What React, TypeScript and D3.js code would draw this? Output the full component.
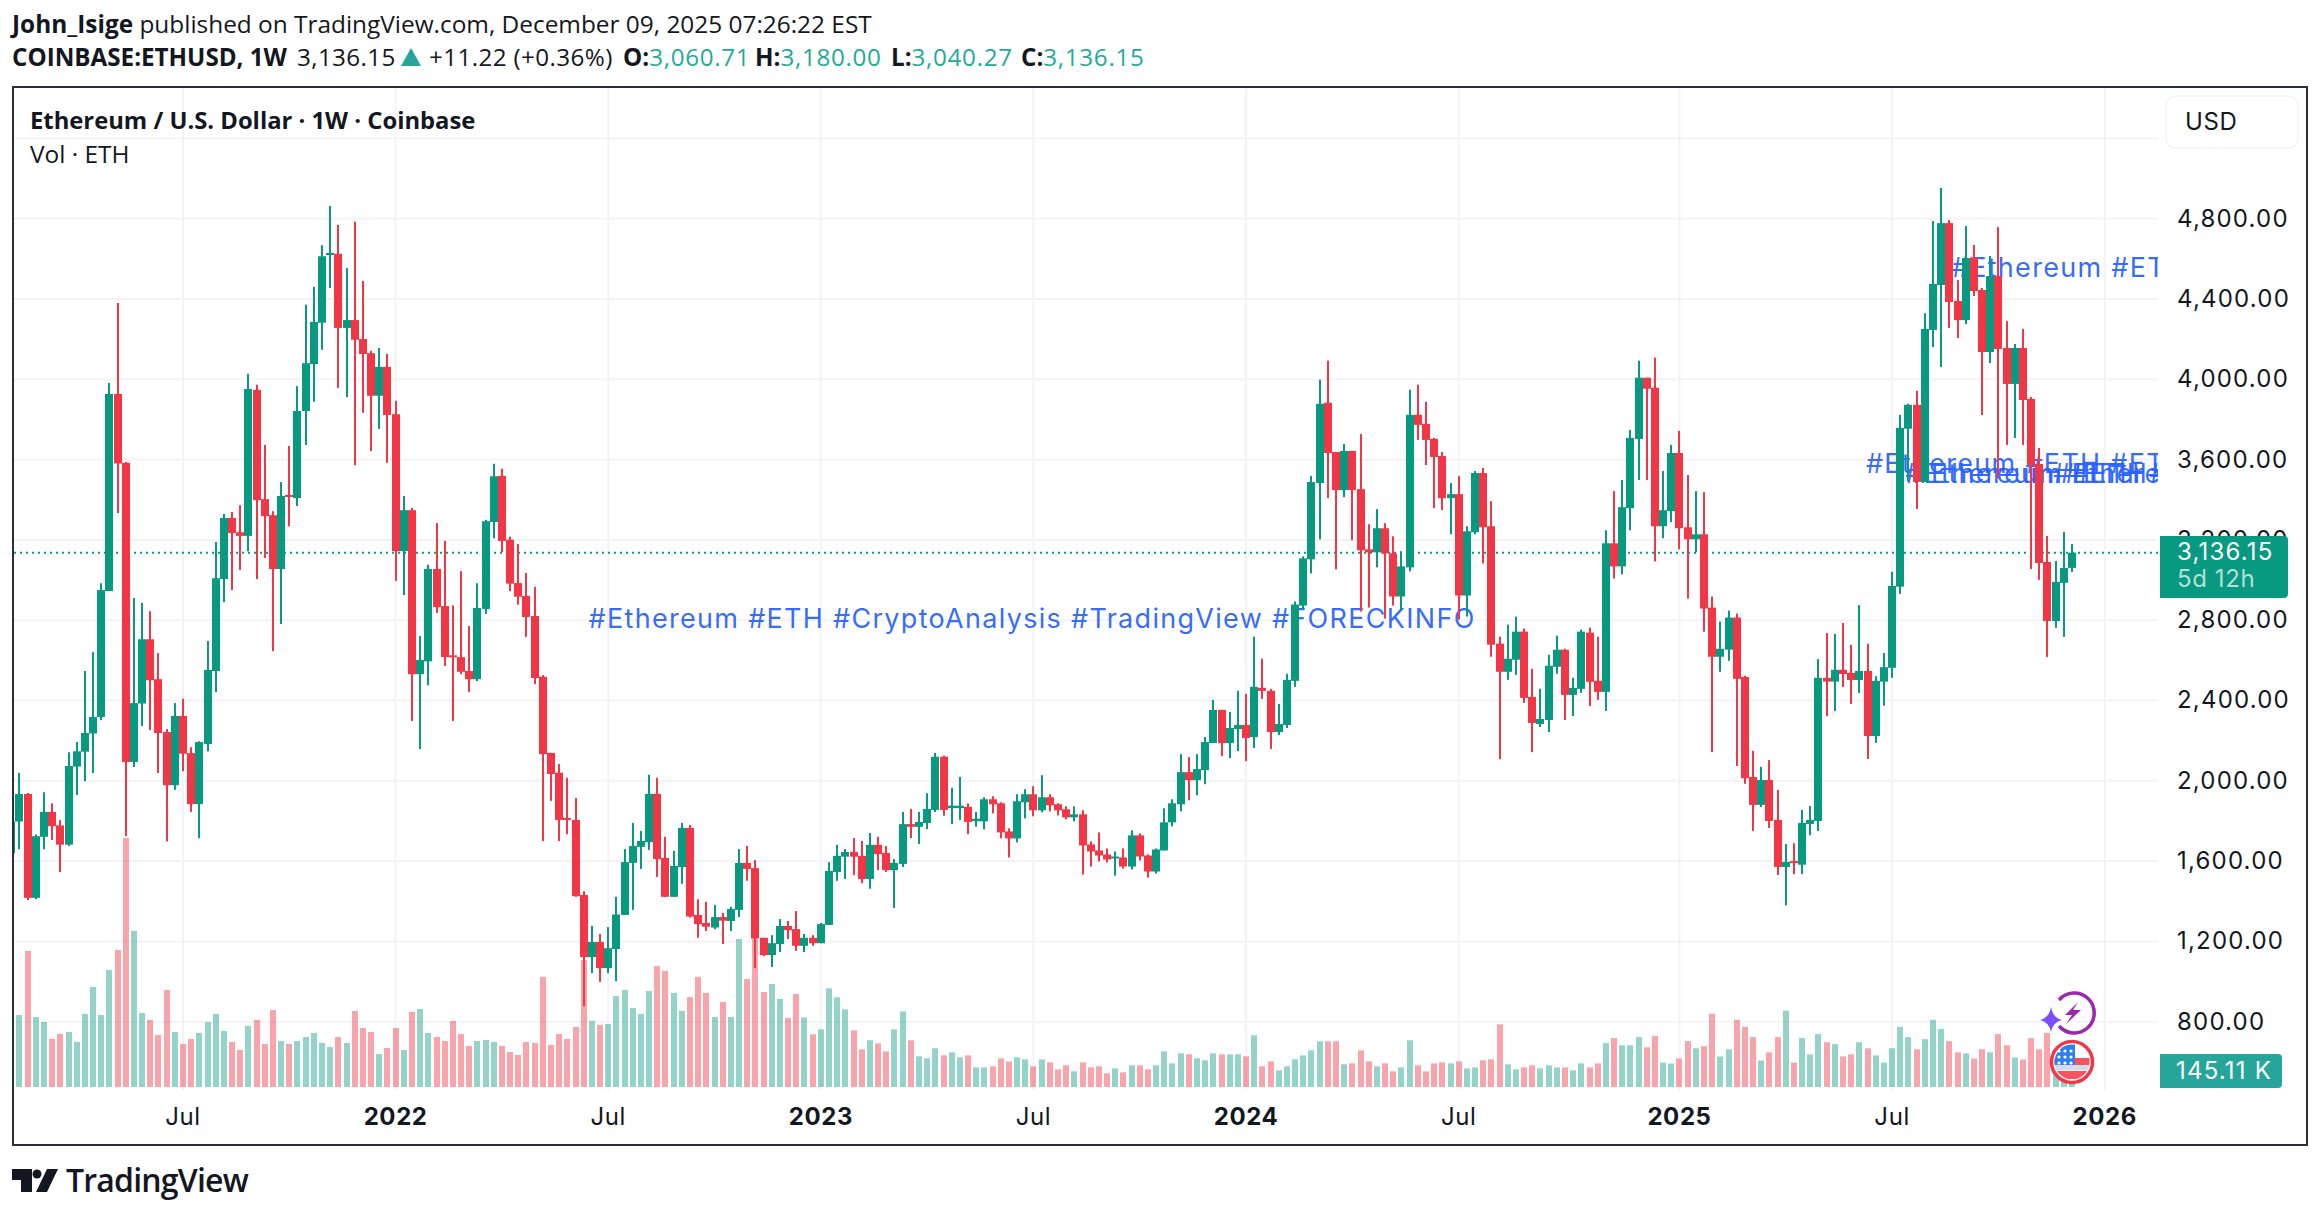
import * as d3 from "d3";

const WIDTH = 2320;
const HEIGHT = 1218;

const UP = "#089981";
const DOWN = "#f23645";
const GRID = "#f3f3f5";
const INK = "#131722";
const AXIS_FONT = "Inter, sans-serif";
const HEAD_FONT = "'Open Sans', sans-serif";

// weekly candles
const opens = [
  1640, 1797, 1934, 1417, 1721, 1845, 1778, 1682, 2071, 2145,
  2236, 2318, 2945, 3927, 3584, 2094, 2385, 2705, 2506, 2243,
  1978, 2323, 2138, 1884, 2183, 2547, 3005, 3309, 3238, 3220,
  3947, 3403, 3323, 3055, 3424, 3408, 3842, 4076, 4282, 4625,
  4625, 4256, 4295, 4201, 4130, 3918, 4062, 3826, 3144, 3348,
  2531, 2595, 3055, 2870, 2625, 2616, 2547, 2506, 2856, 3289,
  3519, 3201, 2985, 2921, 2821, 2518, 2139, 2040, 1815, 1805,
  1431, 1122, 1197, 1067, 1162, 1332, 1591, 1671, 1694, 1935,
  1616, 1422, 1570, 1765, 1332, 1292, 1269, 1321, 1302, 1357,
  1591, 1565, 1218, 1132, 1187, 1277, 1261, 1178, 1218, 1191,
  1282, 1546, 1622, 1645, 1626, 1511, 1681, 1641, 1555, 1586,
  1784, 1771, 1790, 1855, 2120, 1864, 1864, 1870, 1799, 1798,
  1908, 1888, 1748, 1713, 1893, 1933, 1853, 1918, 1883, 1858,
  1818, 1833, 1683, 1653, 1633, 1613, 1618, 1573, 1728, 1628,
  1548, 1653, 1793, 1883, 2043, 2003, 2053, 2188, 2353, 2188,
  2258, 2278, 2218, 2463, 2448, 2243, 2278, 2498, 2873, 3103,
  3483, 3883, 3638, 3448, 3643, 3453, 3153, 3138, 3258, 3133,
  2918, 3063, 3823, 3778, 3703, 3618, 3408, 3428, 2923, 3238,
  3533, 3268, 2683, 2543, 2603, 2743, 2418, 2283, 2303, 2568,
  2653, 2428, 2458, 2738, 2498, 2443, 3183, 3068, 3358, 3703,
  4008, 3958, 3268, 3343, 3633, 3263, 3203, 3228, 2863, 2618,
  2653, 2813, 2517, 2019, 1880, 2004, 1805, 1571, 1600, 1582,
  1785, 1800, 2513, 2494, 2553, 2538, 2502, 2547, 2223, 2494,
  2563, 2967, 3754, 3873, 3489, 4246, 4470, 4778, 4390, 4295,
  4607, 4445, 4136, 4514, 4156, 3977, 4156, 3902, 3578, 3090,
  2796, 2986, 3060.71,
];
const closes = [
  1797, 1934, 1417, 1724, 1845, 1774, 1682, 2074, 2147, 2238,
  2318, 2950, 3927, 3581, 2094, 2387, 2705, 2501, 2238, 1978,
  2323, 2135, 1884, 2193, 2552, 3009, 3309, 3234, 3220, 3952,
  3398, 3318, 3055, 3419, 3414, 3842, 4080, 4286, 4613, 4629,
  4256, 4295, 4197, 4126, 3918, 4062, 3822, 3144, 3348, 2531,
  2602, 3055, 2865, 2616, 2616, 2543, 2506, 2861, 3293, 3517,
  3195, 2982, 2917, 2816, 2512, 2133, 2034, 1805, 1807, 1425,
  1122, 1197, 1067, 1166, 1334, 1595, 1675, 1700, 1935, 1610,
  1422, 1576, 1765, 1324, 1286, 1273, 1321, 1303, 1361, 1591,
  1561, 1214, 1132, 1191, 1277, 1256, 1178, 1218, 1191, 1286,
  1551, 1626, 1645, 1622, 1511, 1681, 1635, 1555, 1591, 1784,
  1771, 1795, 1860, 2120, 1855, 1876, 1876, 1795, 1811, 1908,
  1883, 1743, 1713, 1898, 1933, 1853, 1918, 1878, 1853, 1818,
  1833, 1678, 1648, 1628, 1608, 1623, 1573, 1728, 1623, 1548,
  1658, 1793, 1888, 2043, 2003, 2058, 2193, 2353, 2188, 2263,
  2278, 2213, 2468, 2448, 2243, 2283, 2503, 2878, 3108, 3488,
  3878, 3633, 3448, 3643, 3448, 3148, 3138, 3258, 3133, 2918,
  3068, 3823, 3773, 3698, 3613, 3408, 3428, 2923, 3243, 3533,
  3263, 2678, 2543, 2608, 2743, 2413, 2288, 2308, 2573, 2653,
  2428, 2463, 2743, 2493, 2443, 3183, 3068, 3363, 3708, 4008,
  3953, 3268, 3348, 3633, 3258, 3203, 3228, 2858, 2618, 2658,
  2813, 2508, 2013, 1880, 2004, 1800, 1571, 1596, 1592, 1790,
  1805, 2513, 2494, 2553, 2532, 2502, 2547, 2223, 2498, 2566,
  2971, 3758, 3873, 3489, 4251, 4475, 4778, 4385, 4295, 4604,
  4440, 4136, 4514, 4151, 3977, 4156, 3897, 3573, 3085, 2796,
  2991, 3060, 3136.15,
];
const highs = [
  1800, 2039, 1939, 1733, 1943, 1888, 1804, 2142, 2193, 2547,
  2641, 2984, 3982, 4380, 3588, 2911, 2886, 2845, 2636, 2257,
  2387, 2408, 2167, 2197, 2696, 3190, 3330, 3339, 3373, 4028,
  3973, 3673, 3343, 3488, 3668, 3966, 4371, 4460, 4668, 4863,
  4769, 4554, 4785, 4490, 4142, 4156, 4126, 3893, 3419, 3359,
  2721, 3076, 3284, 3195, 2874, 3044, 2771, 2984, 3300, 3579,
  3554, 3216, 3180, 3035, 2966, 2526, 2139, 2083, 2015, 1914,
  1450, 1277, 1237, 1271, 1422, 1660, 1790, 1750, 2030, 2015,
  1721, 1651, 1790, 1780, 1410, 1397, 1382, 1342, 1372, 1660,
  1675, 1605, 1218, 1231, 1311, 1302, 1351, 1237, 1231, 1292,
  1595, 1681, 1660, 1715, 1700, 1740, 1721, 1675, 1610, 1845,
  1860, 1845, 1938, 2139, 2125, 1965, 2019, 1887, 1845, 1918,
  1923, 1893, 1763, 1933, 1958, 1973, 2028, 1933, 1888, 1873,
  1873, 1853, 1698, 1743, 1663, 1648, 1663, 1753, 1738, 1633,
  1663, 1863, 1908, 2133, 2118, 2133, 2218, 2403, 2353, 2343,
  2448, 2433, 2718, 2608, 2458, 2383, 2533, 2893, 3118, 3518,
  3998, 4093, 3638, 3678, 3643, 3728, 3278, 3353, 3283, 3218,
  3143, 3948, 3973, 3888, 3708, 3638, 3483, 3518, 3268, 3543,
  3558, 3393, 2718, 2778, 2818, 2758, 2558, 2458, 2628, 2723,
  2658, 2513, 2753, 2763, 2718, 3248, 3443, 3498, 3748, 4093,
  4008, 4108, 3543, 3673, 3743, 3523, 3443, 3438, 2918, 2793,
  2848, 2833, 2523, 2149, 2069, 2103, 1954, 1685, 1689, 1855,
  1874, 2606, 2736, 2732, 2786, 2677, 2875, 2683, 2521, 2637,
  3041, 3823, 3878, 3943, 4329, 4788, 4953, 4793, 4495, 4763,
  4669, 4455, 4614, 4758, 4290, 4176, 4251, 3912, 3658, 3220,
  3095, 3240, 3180,
];
const lows = [
  1612, 1659, 1406, 1410, 1659, 1705, 1545, 1675, 1929, 1998,
  2039, 2302, 2945, 3334, 1724, 2069, 2273, 2252, 2039, 1698,
  1955, 2048, 1845, 1714, 2147, 2442, 2890, 2950, 3051, 3144,
  3005, 3110, 2646, 2781, 3268, 3369, 3673, 3888, 4147, 4455,
  3957, 3911, 3572, 3833, 3643, 3753, 3584, 2996, 2925, 2298,
  2158, 2476, 2836, 2572, 2298, 2531, 2442, 2497, 2831, 3208,
  3140, 2945, 2877, 2717, 2482, 1700, 1900, 1700, 1734, 1422,
  878, 1042, 998, 1042, 1002, 1332, 1357, 1561, 1656, 1521,
  1422, 1422, 1487, 1319, 1218, 1252, 1261, 1187, 1252, 1321,
  1502, 1067, 1126, 1073, 1147, 1212, 1153, 1147, 1178, 1191,
  1282, 1502, 1511, 1530, 1490, 1462, 1555, 1546, 1366, 1570,
  1715, 1685, 1759, 1845, 1826, 1784, 1805, 1734, 1771, 1758,
  1838, 1713, 1618, 1693, 1813, 1823, 1843, 1848, 1828, 1808,
  1798, 1533, 1573, 1598, 1593, 1528, 1563, 1558, 1603, 1518,
  1538, 1653, 1773, 1848, 1903, 1928, 1983, 2188, 2123, 2113,
  2148, 2098, 2163, 2408, 2158, 2228, 2263, 2468, 2853, 3033,
  3203, 3408, 3053, 3413, 3198, 2843, 2863, 3063, 2808, 2873,
  2848, 3043, 3698, 3573, 3358, 3348, 3228, 2803, 2818, 3228,
  3083, 2618, 2108, 2503, 2528, 2388, 2143, 2268, 2243, 2533,
  2303, 2323, 2438, 2373, 2403, 2348, 3008, 3028, 3248, 3498,
  3498, 3093, 3208, 3288, 3153, 2908, 3138, 2743, 2143, 2543,
  2598, 2074, 1985, 1750, 1870, 1765, 1531, 1380, 1535, 1535,
  1729, 1750, 2322, 2347, 2467, 2383, 2437, 2109, 2189, 2374,
  2513, 2931, 3491, 3354, 3489, 4161, 4061, 4256, 4206, 4275,
  4415, 3822, 4081, 3508, 3673, 3708, 3673, 3055, 3001, 2617,
  2762, 2717, 3040.27,
];
const volumes = [
  926, 804, 1518, 781, 725, 536, 591, 614, 502, 815,
  1116, 804, 1306, 1529, 2779, 1741, 826, 748, 580, 1083,
  614, 480, 536, 603, 725, 815, 625, 502, 413, 681,
  748, 480, 859, 513, 480, 513, 558, 603, 491, 446,
  558, 491, 848, 658, 614, 368, 435, 658, 413, 837,
  870, 603, 558, 513, 737, 591, 458, 513, 525, 502,
  458, 391, 357, 502, 491, 1228, 469, 591, 536, 670,
  1417, 737, 692, 703, 1016, 1083, 882, 815, 1071, 1350,
  1295, 1049, 848, 1004, 1228, 1049, 781, 949, 781, 1652,
  1205, 1652, 1060, 1149, 982, 770, 1038, 777, 588, 644,
  1101, 1001, 867, 632, 420, 521, 487, 398, 644, 844,
  521, 342, 320, 432, 353, 387, 331, 353, 219, 219,
  231, 320, 286, 331, 309, 231, 309, 275, 197, 242,
  175, 275, 219, 231, 153, 208, 164, 242, 242, 197,
  242, 398, 264, 376, 365, 320, 298, 376, 365, 365,
  365, 342, 577, 231, 286, 186, 231, 309, 353, 409,
  510, 510, 510, 253, 264, 409, 286, 231, 264, 175,
  219, 521, 242, 175, 264, 275, 264, 286, 208, 219,
  298, 309, 699, 253, 197, 219, 242, 208, 242, 219,
  219, 186, 264, 219, 264, 489, 546, 466, 466, 557,
  443, 569, 273, 262, 318, 512, 432, 455, 819, 341,
  421, 750, 671, 557, 296, 387, 557, 853, 273, 546,
  364, 591, 500, 478, 341, 364, 500, 432, 352, 273,
  432, 671, 557, 421, 534, 750, 648, 512, 387, 375,
  318, 421, 387, 591, 466, 330, 307, 546, 421, 603,
  269, 193, 178,
];

const priceTicks = [800, 1200, 1600, 2000, 2400, 2800, 3200, 3600, 4000, 4400, 4800, 5200];
const timeTicks = [
  { bar: 21, label: "Jul", major: false },
  { bar: 47, label: "2022", major: true },
  { bar: 73, label: "Jul", major: false },
  { bar: 99, label: "2023", major: true },
  { bar: 125, label: "Jul", major: false },
  { bar: 151, label: "2024", major: true },
  { bar: 177, label: "Jul", major: false },
  { bar: 204, label: "2025", major: true },
  { bar: 230, label: "Jul", major: false },
  { bar: 256, label: "2026", major: true },
];
const notes = [
  { text: "#Ethereum #ETH #CryptoAnalysis #TradingView #FORECKINFO", bar: 70.6, price: 2762 },
  { text: "#Ethereum #ETH #ETH", bar: 237.3, price: 4510 },
  { text: "#Ethereum #ETH #ETH", bar: 226.8, price: 3535 },
  { text: "#Ethereum #ETH #ETH", bar: 231.6, price: 3482 },
  { text: "#Ethereum #ETH #ETH", bar: 232.5, price: 3482 },
  { text: "#Ethereum #ETH #ETH", bar: 249.7, price: 3482 },
];

const LAST_PRICE = 3136.15;

const x = d3.scaleLinear().domain([21, 252]).range([183, 2072]);
const y = d3.scaleLinear().domain([800, 4800]).range([1021.7, 218.7]);
const volY = d3.scaleLinear().domain([0, 2779]).range([1087, 838]);
const fmt = d3.format(",.2f");

const PANE = { left: 14, right: 2158, top: 88, bottom: 1090 };
const AXIS_X = 2177;

const flagStars = [
  [2059, 1051], [2065, 1051], [2071, 1051],
  [2059, 1057], [2065, 1057], [2071, 1057],
  [2059, 1063], [2065, 1063], [2071, 1063],
];

const App = () => {
  const bars = opens.map((o, i) => ({
    i,
    o,
    c: closes[i],
    h: highs[i],
    l: lows[i],
    v: volumes[i],
    cx: Math.round(x(i)),
    up: closes[i] >= o,
  }));

  return (
    <svg
      width={WIDTH}
      height={HEIGHT}
      viewBox={`0 0 ${WIDTH} ${HEIGHT}`}
      style={{ position: "absolute", left: 0, top: 0, background: "#fff" }}
    >
      <defs>
        <clipPath id="pane">
          <rect x={PANE.left} y={PANE.top} width={PANE.right - PANE.left} height={PANE.bottom - PANE.top} />
        </clipPath>
        <clipPath id="flag">
          <circle cx={2072} cy={1062} r={17.5} />
        </clipPath>
      </defs>

      {/* header */}
      <text x={12} y={33} fontFamily={HEAD_FONT} fontSize={24.4} fill={INK}>
        <tspan fontWeight={700}>John_Isige</tspan> published on TradingView.com, December 09, 2025 07:26:22 EST
      </text>
      <text y={66} fontFamily={HEAD_FONT} fontSize={24.2} fill={INK}>
        <tspan x={12} fontWeight={700}>COINBASE:ETHUSD, 1W</tspan>
        <tspan x={297} letterSpacing={0.4}>3,136.15</tspan>
        <tspan x={429} letterSpacing={0.4}>+11.22 (+0.36%)</tspan>
        <tspan x={623} fontWeight={700}>O:</tspan>
        <tspan fill="#22ab94" letterSpacing={0.7}>3,060.71</tspan>
        <tspan x={755} fontWeight={700}>H:</tspan>
        <tspan fill="#22ab94" letterSpacing={0.7}>3,180.00</tspan>
        <tspan x={891} fontWeight={700}>L:</tspan>
        <tspan fill="#22ab94" letterSpacing={0.7}>3,040.27</tspan>
        <tspan x={1021} fontWeight={700}>C:</tspan>
        <tspan fill="#22ab94" letterSpacing={0.7}>3,136.15</tspan>
      </text>
      <path d="M411 48 L421 66 L401 66 Z" fill="#26a69a" />

      {/* grid */}
      {priceTicks.map((p) => (
        <line key={p} x1={PANE.left} x2={PANE.right} y1={y(p)} y2={y(p)} stroke={GRID} strokeWidth={2} />
      ))}
      {timeTicks.map((t) => (
        <line key={t.bar} x1={x(t.bar)} x2={x(t.bar)} y1={PANE.top} y2={PANE.bottom} stroke={GRID} strokeWidth={2} />
      ))}

      <g clipPath="url(#pane)">
        {/* notes sit under the candles */}
        {notes.map((n, k) => (
          <text
            key={k}
            x={x(n.bar)}
            y={y(n.price)}
            fontFamily={AXIS_FONT}
            fontSize={27}
            letterSpacing={1.3}
            fill="#2962ff"
            fillOpacity={0.95}
          >
            {n.text}
          </text>
        ))}

        {/* volume */}
        {bars.map((b) => (
          <rect
            key={b.i}
            x={b.cx - 3}
            y={volY(b.v)}
            width={6}
            height={volY(0) - volY(b.v)}
            fill={b.up ? "#089981" : "#f23645"}
            fillOpacity={b.up ? 0.43 : 0.45}
          />
        ))}

        <line
          x1={PANE.left}
          x2={PANE.right}
          y1={y(LAST_PRICE)}
          y2={y(LAST_PRICE)}
          stroke={UP}
          strokeWidth={2}
          strokeDasharray="2 4"
        />

        {/* candles */}
        {bars.map((b) => {
          const top = y(Math.max(b.o, b.c));
          const bottom = y(Math.min(b.o, b.c));
          const fill = b.up ? UP : DOWN;
          return (
            <g key={b.i} fill={fill}>
              <rect x={b.cx - 1} y={y(b.h)} width={2} height={y(b.l) - y(b.h)} />
              <rect x={b.cx - 4} y={top} width={8} height={Math.max(bottom - top, 2)} />
            </g>
          );
        })}
      </g>

      {/* price axis */}
      {priceTicks.slice(0, -1).map((p) => (
        <text
          key={p}
          x={AXIS_X}
          y={y(p)}
          dy="0.33em"
          fontFamily={AXIS_FONT}
          fontSize={24}
          letterSpacing={1.2}
          fill={INK}
        >
          {fmt(p)}
        </text>
      ))}
      <path d="M2160 536 H2284 a4 4 0 0 1 4 4 V594 a4 4 0 0 1 -4 4 H2160 Z" fill={UP} />
      <text x={AXIS_X} y={552} dy="0.34em" fontFamily={AXIS_FONT} fontSize={24} letterSpacing={1.2} fill="#fff">
        {fmt(LAST_PRICE)}
      </text>
      <text x={AXIS_X} y={579} dy="0.34em" fontFamily={AXIS_FONT} fontSize={24} letterSpacing={0.6} fill="#fff" fillOpacity={0.7}>
        5d 12h
      </text>
      <path d="M2160 1054 H2278 a4 4 0 0 1 4 4 V1084 a4 4 0 0 1 -4 4 H2160 Z" fill="#26a69a" />
      <text x={2176} y={1071} dy="0.34em" fontFamily={AXIS_FONT} fontSize={24} letterSpacing={1.2} fill="#fff">
        145.11 K
      </text>
      <rect x={2166} y={96} width={132} height={52} rx={9} fill="#fff" stroke="#f0f3fa" strokeWidth={1.5} />
      <text x={2185} y={122} dy="0.34em" fontFamily={AXIS_FONT} fontSize={24} letterSpacing={0.6} fill={INK}>
        USD
      </text>

      {/* time axis */}
      {timeTicks.map((t) => (
        <text
          key={t.bar}
          x={x(t.bar)}
          y={1117}
          dy="0.34em"
          textAnchor="middle"
          fontFamily={AXIS_FONT}
          fontSize={24}
          fontWeight={t.major ? 700 : 400}
          letterSpacing={0.6}
          fill={INK}
        >
          {t.label}
        </text>
      ))}

      {/* pane titles */}
      <text x={30} y={129} fontFamily={HEAD_FONT} fontSize={23.8} fontWeight={700} fill={INK}>
        Ethereum / U.S. Dollar · 1W · Coinbase
      </text>
      <text x={30} y={163} fontFamily={HEAD_FONT} fontSize={24.4} fill={INK}>
        Vol · ETH
      </text>

      {/* event badges */}
      <path d="M2059 1000 A20 20 0 1 1 2059 1026" fill="none" stroke="#9c27b0" strokeWidth={3.5} />
      <path d="M2078 1002 L2065 1015 L2072 1015 L2066 1024 L2081 1010 L2073 1010 Z" fill="#9c27b0" />
      <path d="M2051 1007 Q2053 1018 2062 1020 Q2053 1022 2051 1032 Q2049 1022 2040 1020 Q2049 1018 2051 1007 Z" fill="#7c4dff" />
      <circle cx={2072} cy={1062} r={20.5} fill="#fff" stroke={DOWN} strokeWidth={3.5} />
      <g clipPath="url(#flag)">
        <rect x={2054} y={1058} width={36} height={7} fill="#f4535f" />
        <rect x={2054} y={1065} width={36} height={5} fill="#d7dbe6" />
        <rect x={2054} y={1071} width={36} height={8} fill="#f4535f" />
        <rect x={2054} y={1044} width={21} height={21} fill="#2f80ed" />
        {flagStars.map(([sx, sy], k) => (
          <circle key={k} cx={sx} cy={sy} r={1.6} fill="#fff" />
        ))}
      </g>

      {/* frame */}
      <rect x={13} y={87} width={2294} height={1058} fill="none" stroke="#2a2e39" strokeWidth={2} />

      {/* logo */}
      <path d="M12 1169 H32 V1192 H21 V1180 H12 Z M36 1192 L47 1169 H58 L47 1192 Z" fill={INK} />
      <circle cx={37} cy={1174} r={4.5} fill={INK} />
      <text x={66} y={1192} fontFamily={HEAD_FONT} fontSize={32} fontWeight={600} fill={INK} letterSpacing={-0.8}>
        TradingView
      </text>
    </svg>
  );
};

export default App;
